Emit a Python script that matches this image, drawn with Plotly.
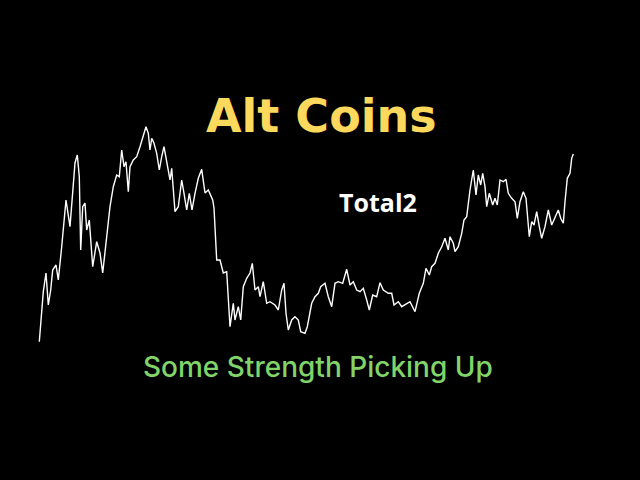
import plotly.graph_objects as go

# Total2 trace (day position, index value)
day = [39.3, 41.7, 43.3, 46, 48.3, 50.7, 52.7, 56, 58.3, 61.7, 66, 70, 72.7, 75, 77.3, 79.3,
       80.7, 82.7, 85, 86.7, 89.3, 92.7, 96.7, 100, 102.7, 106.7, 110, 113.3, 116.7, 119.3,
       121.7, 124, 126, 128.3, 130, 133.3, 136.7, 140, 143.3, 146, 148.3, 150, 151.7, 154,
       156.7, 159.3, 161.7, 164, 166.7, 170, 171.7, 175, 178.3, 181.7, 184, 186.7, 189.3, 192,
       195, 198.3, 201.7, 205, 208.3, 212.7, 214, 216.7, 220, 223.3, 226.7, 230, 233.3, 235,
       238.3, 240.7, 243.3, 246.7, 250, 252.3, 255, 258.3, 260, 263.3, 266.7, 270, 275, 278.3,
       281.7, 284, 286, 288.3, 291.7, 295, 298.3, 300.7, 305, 307.3, 311.7, 315, 318.3, 320.7,
       325, 328.3, 331.7, 335, 338.3, 342.7, 346.7, 350, 353.3, 356.7, 360, 363.3, 366.7,
       369.3, 372.7, 376.7, 380, 383.3, 388.3, 391.7, 394, 398.3, 401.7, 405, 410, 415, 419.3,
       423.3, 426, 429.3, 431.7, 435, 438.3, 441.7, 445, 448.3, 450, 453.3, 455, 458.3, 461.7,
       464, 466.7, 470, 473.3, 476, 478.3, 480.7, 482.7, 485, 486.7, 489.3, 492.7, 495, 497.3,
       500, 503.3, 506, 508.3, 511.7, 515, 517.3, 520, 523.3, 526, 529.3, 531.7, 534, 536.7,
       539.3, 541.7, 545, 548.3, 551.7, 555, 558.3, 560.7, 563.3, 565, 567.3, 570, 571.7, 573.3]
total2 = [138.3, 167, 188.3, 207, 175, 190, 210, 215, 200, 233.3, 280, 253.3, 293.3, 317, 325,
          303.3, 230, 273.3, 277, 250, 260, 213.3, 238.3, 227, 207, 247, 273.3, 293.3, 305,
          303.3, 330, 313.3, 318.3, 288.3, 313.3, 320, 323.3, 333.3, 343.3, 353.3, 346.7, 330,
          341.7, 336.7, 326.7, 310, 323.3, 333.3, 318.3, 300, 311.7, 268.3, 273.3, 300, 286.7,
          270, 286.7, 270, 286.7, 301.7, 310.7, 287, 290, 280, 272, 220, 220, 207, 208.3, 153.3,
          176.7, 160, 173.3, 160, 193.3, 201.7, 207, 216.7, 190, 193.3, 183.3, 198.3, 176.7,
          178.3, 175, 170, 190, 196.7, 166.7, 150, 160, 163.3, 160, 148.3, 146.7, 153.3, 176.7,
          183.3, 186.7, 193.3, 196.7, 183.3, 173.3, 196.7, 198.3, 196.7, 210.7, 195, 198.3, 190,
          188.3, 191.7, 180, 170, 185, 183.3, 197.3, 190, 186.7, 186.7, 175, 178.3, 173.3, 175,
          178.3, 168.3, 186.7, 196.7, 211.7, 205, 213.3, 216.7, 226.7, 233.3, 241.7, 230, 243.3,
          236.7, 228.3, 233.3, 246.7, 260, 263.3, 290, 310, 285, 305, 295, 306.7, 293.3, 273.3,
          286.7, 275, 281.7, 275, 300, 298.3, 300.7, 286.7, 281.7, 278.3, 261.7, 278.3, 288.3,
          281.7, 243.3, 258.3, 255, 268.3, 253.3, 241.7, 253.3, 270, 255, 263.3, 270, 261.7,
          256.7, 278.3, 301.7, 306.7, 321.7, 326]

fig = go.Figure()
fig.add_trace(go.Scatter(
    x=day, y=total2, mode="lines",
    line=dict(color="#ffffff", width=1.4), hoverinfo="skip", showlegend=False,
))

fig.add_annotation(text="Alt Coins", x=321 / 640, y=1 - 116 / 480, xref="paper", yref="paper",
                   showarrow=False, xanchor="center", yanchor="middle",
                   font=dict(family="DejaVu Sans", size=46, color="#FCD85C", weight=700))
fig.add_annotation(text="Total2", x=377.5 / 640, y=1 - 202 / 480, xref="paper", yref="paper",
                   showarrow=False, xanchor="center", yanchor="middle",
                   font=dict(family="Open Sans", size=25, color="#ffffff", weight=700))
fig.add_annotation(text="Some Strength Picking Up", x=318 / 640, y=1 - 367 / 480, xref="paper",
                   yref="paper", showarrow=False, xanchor="center", yanchor="middle",
                   font=dict(family="Inter", size=28, color="#80D468", weight=500))

fig.update_layout(
    width=640, height=480, margin=dict(l=0, r=0, t=0, b=0),
    paper_bgcolor="#000000", plot_bgcolor="#000000",
    xaxis=dict(range=[0, 640], visible=False, fixedrange=True),
    yaxis=dict(range=[0, 480], visible=False, fixedrange=True),
)
fig.write_html("out.html", config={"displayModeBar": False},
               post_script="document.body.style.margin='0';document.body.style.background='#000';")
